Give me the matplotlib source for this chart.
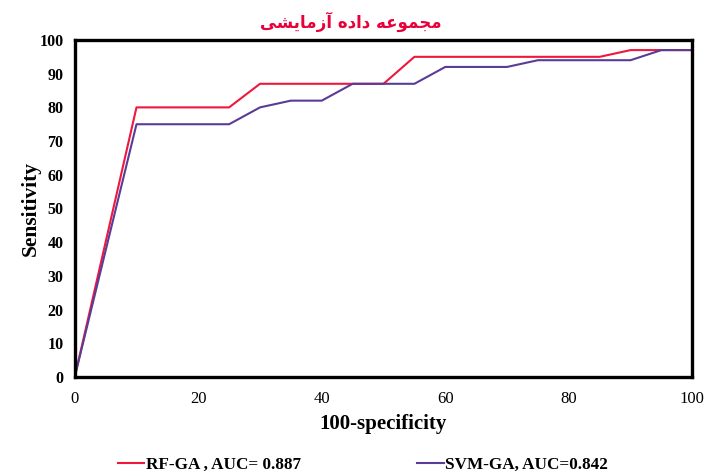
import matplotlib
matplotlib.use("Agg")
from matplotlib import pyplot as plt

# ROC points
rf_x = [0, 10, 25, 30, 50, 55, 85, 90, 100]
rf_y = [0, 80, 80, 87, 87, 95, 95, 97, 97]
svm_x = [0, 10, 25, 30, 35, 40, 45, 55, 60, 70, 75, 90, 95, 100]
svm_y = [0, 75, 75, 80, 82, 82, 87, 87, 92, 92, 94, 94, 97, 97]

rf_label = "RF-GA , AUC= 0.887"
svm_label = "SVM-GA, AUC=0.842"

# title "مجموعه داده آزمایشی" written in shaped presentation forms, visual order
words = ["\uFEE3\uFEA0\uFEE4\uFEEE\uFECB\uFEEA",
         "\uFEA9\uFE8D\uFEA9\uFEE9",
         "\uFE81\uFEAF\uFEE3\uFE8E\uFBFE\uFEB8\uFBFD"]
title = " ".join(w[::-1] for w in words[::-1])

serif = "Liberation Serif"

fig = plt.figure(figsize=(7.05, 4.76), dpi=100)
ax = fig.add_axes([0.106, 0.208, 0.876, 0.708])

ax.plot(rf_x, rf_y, color="#f0173c", lw=1.5, label=rf_label)
ax.plot(svm_x, svm_y, color="#5a3c96", lw=1.5, label=svm_label)

ax.set_xlim(0, 100)
ax.set_ylim(0, 100)
ax.set_xticks(range(0, 101, 20))
ax.set_yticks(range(0, 101, 10))
ax.tick_params(axis="x", length=0, pad=10)
ax.tick_params(axis="y", length=0, pad=8)
for t in ax.get_xticklabels():
    t.set_fontfamily(serif)
    t.set_fontsize(12)
for t in ax.get_yticklabels():
    t.set_fontfamily(serif)
    t.set_fontsize(11.5)
    t.set_fontweight("bold")
for s in ax.spines.values():
    s.set_linewidth(2.4)
    s.set_color("black")

ax.set_xlabel("100-specificity", fontfamily=serif, fontsize=15, fontweight="bold", labelpad=5)
ax.set_ylabel("Sensitivity", fontfamily=serif, fontsize=15.5, fontweight="bold", labelpad=-1)

fig.text(0.498, 0.954, title, color="#e8003a", fontsize=12, fontweight="bold",
         family=["DejaVu Sans"], ha="center", va="center")

leg = fig.legend(loc="center", bbox_to_anchor=(0.515, 0.023), ncol=2, frameon=False,
                 handlelength=1.55, handletextpad=0.1, columnspacing=6.8,
                 prop={"family": serif, "weight": "bold", "size": 12.3})

fig.savefig("out.png", dpi=100)
